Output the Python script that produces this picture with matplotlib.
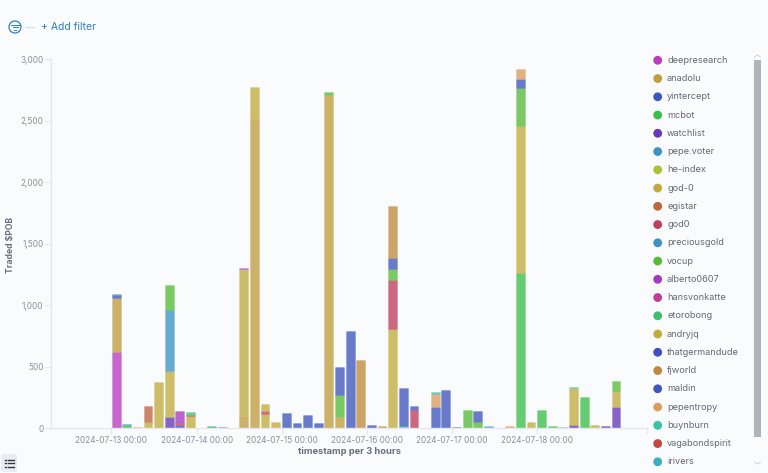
from datetime import datetime, timedelta

from matplotlib import pyplot as plt
from matplotlib import dates as mdates
from matplotlib.colors import to_rgba
from matplotlib.patches import Circle, FancyBboxPatch, Rectangle
from matplotlib.ticker import FuncFormatter

plt.rcParams['font.family'] = ['Inter', 'DejaVu Sans']

legend_names = ['deepresearch', 'anadolu', 'yintercept', 'mcbot', 'watchlist', 'pepe.voter',
                'he-index', 'god-0', 'egistar', 'god0', 'preciousgold', 'vocup', 'alberto0607',
                'hansvonkatte', 'etorobong', 'andryjq', 'thatgermandude', 'fjworld', 'maldin',
                'pepentropy', 'buynburn', 'vagabondspirit', 'irivers']
legend_colors = ['#B93CC0', '#C29C3E', '#3F57BC', '#3DBF4B', '#6438B8', '#3E93C2',
                 '#ABBF3A', '#C2AC3E', '#C0643E', '#BF3E5C', '#3E93C2', '#58BC3A', '#A63ABF',
                 '#C23E94', '#3DBF6B', '#C2AC3E', '#3F4FBF', '#BF8A3E', '#3F57BF',
                 '#DC9C5C', '#3DBFAA', '#BF4840', '#3DAEBF']

# one entry per 3 hour bucket that has data: bucket number, then (account, traded) bottom to top
stacks = [
    (0, [('deepresearch', 620), ('anadolu', 440), ('yintercept', 25), ('pepe.voter', 5)]),
    (1, [('mcbot', 25), ('pepe.voter', 10)]),
    (2, [('god-0', 12)]),
    (3, [('god-0', 50), ('egistar', 125)]),
    (4, [('god-0', 375)]),
    (5, [('yintercept', 10), ('watchlist', 80), ('god-0', 370), ('pepe.voter', 500), ('vocup', 200)]),
    (6, [('yintercept', 22), ('god0', 22), ('alberto0607', 92)]),
    (7, [('god-0', 100), ('god0', 5), ('etorobong', 25)]),
    (8, [('maldin', 3)]),
    (9, [('yintercept', 8), ('etorobong', 8)]),
    (10, [('deepresearch', 8)]),
    (12, [('anadolu', 100), ('god-0', 1190), ('deepresearch', 10)]),
    (13, [('anadolu', 2510), ('god-0', 265)]),
    (14, [('god-0', 115), ('god0', 15), ('hansvonkatte', 10), ('god-0', 55)]),
    (15, [('god-0', 50)]),
    (16, [('yintercept', 120)]),
    (17, [('yintercept', 40)]),
    (18, [('yintercept', 105)]),
    (19, [('yintercept', 38)]),
    (20, [('anadolu', 2710), ('vocup', 20)]),
    (21, [('anadolu', 92), ('vocup', 176), ('yintercept', 230)]),
    (22, [('yintercept', 785)]),
    (23, [('fjworld', 555)]),
    (24, [('yintercept', 22)]),
    (25, [('fjworld', 15)]),
    (26, [('god-0', 802), ('god0', 398), ('vocup', 90), ('yintercept', 90), ('fjworld', 422)]),
    (27, [('buynburn', 18), ('yintercept', 305)]),
    (28, [('god0', 146), ('yintercept', 34)]),
    (29, [('maldin', 2)]),
    (30, [('yintercept', 170), ('pepentropy', 103), ('buynburn', 22)]),
    (31, [('yintercept', 305)]),
    (32, [('yintercept', 8)]),
    (33, [('vocup', 146)]),
    (34, [('vocup', 46), ('yintercept', 89)]),
    (35, [('yintercept', 8), ('buynburn', 7)]),
    (37, [('pepentropy', 16)]),
    (38, [('mcbot', 1260), ('god-0', 1198), ('vocup', 309), ('yintercept', 70), ('pepentropy', 78)]),
    (39, [('god-0', 46)]),
    (40, [('mcbot', 146)]),
    (41, [('mcbot', 16)]),
    (42, [('buynburn', 8)]),
    (43, [('watchlist', 25), ('god-0', 303), ('buynburn', 5)]),
    (44, [('mcbot', 255)]),
    (45, [('god-0', 24)]),
    (46, [('watchlist', 20)]),
    (47, [('watchlist', 170), ('god-0', 130), ('vocup', 80)]),
]

y_ticks = [0, 500, 1000, 1500, 2000, 2500, 3000]
first_day = datetime(2024, 7, 13)
tick_days = [first_day + timedelta(days=i) for i in range(6)]

W, H = 768, 473
BG = '#FAFBFD'
color_of = dict(zip(legend_names, legend_colors))

fig = plt.figure(figsize=(W / 100, H / 100), dpi=100, facecolor=BG)

# plot area in pixels: left 51, right 647, top 59, bottom 428
ax = fig.add_axes((51 / W, 1 - 428 / H, (647 - 51) / W, (428 - 59) / H), facecolor='none')

for bucket, segments in stacks:
    start = first_day + timedelta(hours=3 * bucket)
    bottom = 0
    for name, value in segments:
        ax.bar(mdates.date2num(start) + 0.002, value, width=0.104, bottom=bottom, align='edge',
               facecolor=to_rgba(color_of[name], 0.78), edgecolor=to_rgba(color_of[name], 0.22),
               linewidth=0.6)
        bottom += value

day0 = mdates.date2num(first_day)
px_per_day = 85.1
ax.set_xlim(day0 - (111.5 - 51) / px_per_day, day0 + (647 - 111.5) / px_per_day)
ax.set_ylim(0, 3000)

for side in ('top', 'right'):
    ax.spines[side].set_visible(False)
for side in ('left', 'bottom'):
    ax.spines[side].set_color('#E4E7EC')
    ax.spines[side].set_linewidth(1)

ax.set_yticks(y_ticks)
ax.yaxis.set_major_formatter(FuncFormatter(lambda v, p: f'{int(v):,}'))
ax.set_xticks([mdates.date2num(d) for d in tick_days])
ax.xaxis.set_major_formatter(mdates.DateFormatter('%Y-%m-%d %H:%M'))
ax.tick_params(axis='both', length=4, width=1, color='#E4E7EC', labelcolor='#8A8F99',
               labelsize=5.9, pad=1.5)

ax.set_xlabel('timestamp per 3 hours', fontsize=6.7, fontweight='bold', color='#69707D')
ax.set_ylabel('Traded $POB', fontsize=6.2, fontweight='bold', color='#69707D')
ax.xaxis.set_label_coords((349 - 51) / (647 - 51), -(451 - 428) / (428 - 59), transform=ax.transAxes)
ax.xaxis.label.set_va('center')
ax.yaxis.set_label_coords((11 - 51) / (647 - 51), (428 - 245) / (428 - 59), transform=ax.transAxes)
ax.yaxis.label.set_va('center')

# overlay in pixel coordinates for the legend and the page furniture
over = fig.add_axes((0, 0, 1, 1), facecolor='none')
over.set_xlim(0, W)
over.set_ylim(H, 0)
over.axis('off')

for i, name in enumerate(legend_names):
    y = 60.3 + i * 18.25
    over.add_patch(Circle((657.7, y), 4.4, color=color_of[name], lw=0))
    over.text(667, y, name, fontsize=6.6, color='#646973', va='center', ha='left')

over.add_patch(Rectangle((754, 60), 7, 377, color='#AEB4BC', lw=0))
over.plot([754.5, 757.5, 760.5], [57, 55, 57], color='#C8CCD2', lw=0.6)
over.plot([754.5, 757.5, 760.5], [462, 464, 462], color='#C8CCD2', lw=0.6)
over.plot([647, 647], [428, 433], color='#E4E7EC', lw=1)

# filter bar
blue = '#2F7FBF'
over.add_patch(Circle((15, 27), 6, fill=False, edgecolor=blue, lw=0.9))
over.plot([11, 19], [25, 25], color=blue, lw=0.7)
over.plot([12.5, 17.5], [27.5, 27.5], color=blue, lw=0.7)
over.plot([14, 16], [30, 30], color=blue, lw=0.7)
over.plot([26, 34], [27, 27], color='#DDE1E7', lw=1)
over.text(41, 27, '+ Add filter', fontsize=7.5, color=blue, va='center', ha='left')

# legend toggle button, bottom left
over.add_patch(FancyBboxPatch((1, 454), 16, 18, boxstyle='round,pad=0,rounding_size=2',
                              facecolor='#E9EDF3', edgecolor='none'))
for y in (459.5, 463, 466.5):
    over.plot([5, 6], [y, y], color='#343741', lw=1)
    over.plot([7.5, 14], [y, y], color='#343741', lw=1)

fig.savefig('out.png', dpi=100, facecolor=BG)
